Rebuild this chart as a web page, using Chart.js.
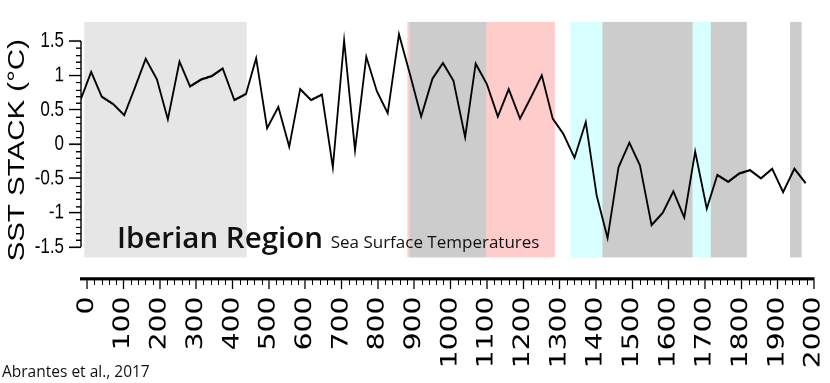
<!DOCTYPE html>
<html>
<head>
<meta charset="utf-8">
<script src="https://cdn.jsdelivr.net/npm/chart.js@4"></script>
<style>
  html, body { margin: 0; padding: 0; background: #fff; }
  body { width: 830px; height: 383px; position: relative; overflow: hidden; }
  /* the original figure is stretched vertically, so the chart is too */
  #stretch { position: absolute; left: 0; top: 0; width: 830px; height: 299px;
             transform: scaleY(1.2809); transform-origin: 0 0; }
  .label { position: absolute; font-family: "Open Sans"; color: #111; white-space: nowrap; line-height: 1; }
  #region { left: 117px; top: 222px; font-size: 29.5px; font-weight: 600; }
  #region span { font-size: 17px; font-weight: 400; }
  #source { left: 2px; top: 364px; font-size: 15.5px; }
</style>
</head>
<body>
<div id="stretch"><canvas id="sstChart" width="830" height="299"></canvas></div>
<div id="region" class="label">Iberian Region <span>Sea Surface Temperatures</span></div>
<div id="source" class="label">Abrantes et al., 2017</div>
<script>
// years (AD) and SST stack anomaly (°C)
const years = [-17, 11, 40, 72, 102, 132, 161, 192, 222, 254, 283, 314, 343, 373, 405, 437,
  465, 495, 526, 556, 586, 616, 646, 676, 707, 737, 768, 797, 827, 858, 889, 919,
  950, 979, 1008, 1040, 1069, 1100, 1130, 1160, 1191, 1221, 1251, 1281, 1310, 1341, 1372, 1402,
  1432, 1462, 1492, 1521, 1553, 1584, 1613, 1643, 1673, 1705, 1734, 1764, 1794, 1824,
  1854, 1885, 1915, 1946, 1977];
const sst = [0.66, 1.05, 0.69, 0.58, 0.42, 0.83, 1.24, 0.94, 0.36, 1.20, 0.84, 0.94, 0.99, 1.10, 0.64, 0.73,
  1.25, 0.23, 0.54, -0.04, 0.80, 0.64, 0.72, -0.34, 1.51, -0.09, 1.27, 0.77, 0.45, 1.60, 1.00, 0.40,
  0.95, 1.18, 0.92, 0.10, 1.17, 0.87, 0.40, 0.80, 0.37, 0.68, 1.00, 0.37, 0.15, -0.20, 0.32, -0.75,
  -1.37, -0.34, 0.02, -0.31, -1.18, -1.00, -0.69, -1.07, -0.11, -0.94, -0.45, -0.55, -0.43, -0.38,
  -0.50, -0.36, -0.70, -0.36, -0.57];

const xTicks = [0, 100, 200, 300, 400, 500, 600, 700, 800, 900, 1000, 1100, 1200, 1300, 1400,
  1500, 1600, 1700, 1800, 1900, 2000];
const yTicks = [-1.5, -1, -0.5, 0, 0.5, 1, 1.5];

// shaded climate periods (years)
const bandStart = [-8, 881, 888, 1330, 1418, 1666, 1716, 1934];
const bandEnd   = [439, 1287, 1098, 1418, 1666, 1716, 1815, 1966];
const bandColor = ["#e6e6e6", "#ffcccc", "#cccccc", "#d7ffff", "#cccccc", "#d7ffff", "#cccccc", "#cccccc"];

const BAND_FLOOR = -1.65;

const bandsPlugin = {
  id: "bands",
  beforeDatasetsDraw(chart) {
    const { ctx, chartArea, scales: { x, y } } = chart;
    const bottom = y.getPixelForValue(BAND_FLOOR);
    ctx.save();
    bandStart.forEach((s, i) => {
      const x0 = x.getPixelForValue(s);
      const x1 = x.getPixelForValue(bandEnd[i]);
      ctx.fillStyle = bandColor[i];
      ctx.fillRect(x0, chartArea.top, x1 - x0, bottom - chartArea.top);
    });
    ctx.restore();
  }
};

// y axis line only spans the labelled range, plus minor ticks on both axes
const axisPlugin = {
  id: "axisExtras",
  afterDraw(chart) {
    const { ctx, chartArea, scales: { x, y } } = chart;
    const left = chartArea.left;
    ctx.save();
    ctx.strokeStyle = "#000";
    ctx.lineWidth = 1.4;
    ctx.beginPath();
    ctx.moveTo(left, y.getPixelForValue(1.5));
    ctx.lineTo(left, y.getPixelForValue(-1.5));
    ctx.stroke();

    ctx.lineWidth = 1;
    ctx.beginPath();
    for (let k = -15; k <= 15; k++) {
      if (k % 5 === 0) continue;
      const py = Math.round(y.getPixelForValue(k / 10)) + 0.5;
      ctx.moveTo(left - 5, py);
      ctx.lineTo(left, py);
    }
    const base = chartArea.bottom;
    for (let v = 0; v <= 2000; v += 20) {
      if (v % 100 === 0) continue;
      const px = Math.round(x.getPixelForValue(v)) + 0.5;
      ctx.moveTo(px, base);
      ctx.lineTo(px, base + 5);
    }
    ctx.stroke();
    ctx.restore();
  }
};

const ctx = document.getElementById("sstChart").getContext("2d");
const chart = new Chart(ctx, {
  type: "line",
  data: {
    datasets: [{
      data: years.map((yr, i) => ({ x: yr, y: sst[i] })),
      borderColor: "#000",
      borderWidth: 1.8,
      pointRadius: 0,
      tension: 0,
      fill: false
    }]
  },
  options: {
    responsive: false,
    animation: false,
    devicePixelRatio: 2,
    layout: { padding: { top: 17, left: 4, right: 16, bottom: 5.5 } },
    plugins: { legend: { display: false }, tooltip: { enabled: false } },
    scales: {
      x: {
        type: "linear",
        min: -17,
        max: 2000,
        afterBuildTicks: scale => { scale.ticks = xTicks.map(v => ({ value: v })); },
        afterFit: scale => { scale.paddingLeft = 0; scale.paddingRight = 0; },
        ticks: {
          autoSkip: false,
          minRotation: 90,
          maxRotation: 90,
          padding: 6,
          color: "#000",
          font: { family: "DejaVu Sans", size: 22 },
          callback: v => String(v)
        },
        grid: { drawOnChartArea: false, tickLength: 8, tickColor: "#000", tickWidth: 1.3 },
        border: { display: true, color: "#000", width: 2.4 }
      },
      y: {
        min: -1.96,
        max: 1.78,
        afterBuildTicks: scale => { scale.ticks = yTicks.map(v => ({ value: v })); },
        afterFit: scale => { scale.width = 77; },
        ticks: {
          padding: 5,
          color: "#000",
          font: { family: "Liberation Sans", size: 17 },
          callback: v => String(v)
        },
        grid: { drawOnChartArea: false, tickLength: 12, tickColor: "#000", tickWidth: 1.2 },
        border: { display: false },
        title: {
          display: true,
          text: "SST STACK (°C)",
          color: "#000",
          padding: 0,
          font: { family: "Liberation Sans", size: 23 }
        }
      }
    }
  },
  plugins: [bandsPlugin, axisPlugin]
});
</script>
</body>
</html>
